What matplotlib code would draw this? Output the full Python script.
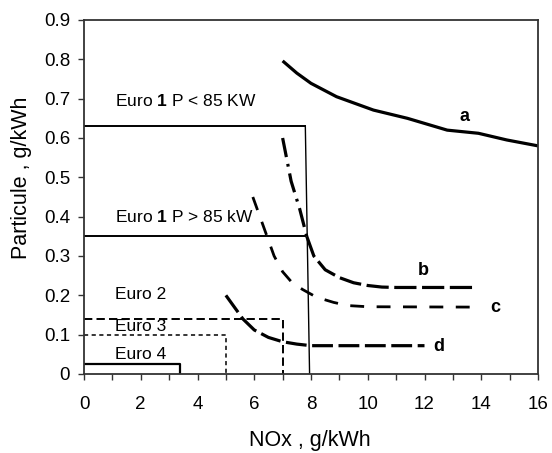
import numpy as np
import matplotlib
matplotlib.use("Agg")
import matplotlib.pyplot as plt
from matplotlib.ticker import MultipleLocator, FuncFormatter

plt.rcParams['font.family'] = ['Liberation Sans', 'DejaVu Sans']
plt.rcParams['mathtext.fontset'] = 'custom'
plt.rcParams['mathtext.rm'] = 'Liberation Sans'
plt.rcParams['mathtext.bf'] = 'Liberation Sans:bold'
plt.rcParams['lines.scale_dashes'] = False

# curve a (solid)
a_x = [7.0, 7.5, 8.0, 8.9, 10.2, 11.4, 12.8, 13.9, 14.9, 16.0]
a_y = [0.796, 0.765, 0.739, 0.705, 0.671, 0.650, 0.620, 0.612, 0.595, 0.580]

# curve b (dash-dot on top, long dashes below)
b_x = [7.0, 7.3, 7.6, 7.85, 8.1, 8.5, 9.0, 9.5, 10.0, 10.5, 11.0, 13.8]
b_y = [0.60, 0.49, 0.42, 0.35, 0.30, 0.265, 0.245, 0.232, 0.225, 0.221, 0.22, 0.22]
b_split = 3

# curve c (dashed)
c_x = [5.95, 6.2, 6.45, 6.7, 7.0, 7.3, 7.7, 8.2, 8.8, 9.3, 10.0, 14.0]
c_y = [0.45, 0.40, 0.35, 0.30, 0.26, 0.235, 0.215, 0.195, 0.182, 0.174, 0.171, 0.17]

# curve d (dashed)
d_x = [5.0, 5.3, 5.6, 6.0, 6.5, 7.0, 7.5, 8.0, 12.0]
d_y = [0.20, 0.17, 0.14, 0.112, 0.093, 0.082, 0.076, 0.072, 0.072]

# Euro limits: (NOx limit, particle limit)
euro1_lo = (7.8, 0.63)
euro1_hi = (7.8, 0.35)
euro1_bottom_x = 7.95
euro2 = (7.0, 0.14)
euro3 = (5.0, 0.10)
euro4 = (3.4, 0.025)

fig = plt.figure(figsize=(5.52, 4.53), dpi=100)
ax = fig.add_axes([84/552, 1-374/453, 454/552, 354/453])

# Euro 1
ax.plot([0, euro1_lo[0]], [euro1_lo[1], euro1_lo[1]], color='black', lw=1.4)
ax.plot([0, euro1_hi[0]], [euro1_hi[1], euro1_hi[1]], color='black', lw=1.4)
ax.plot([euro1_lo[0], euro1_bottom_x], [euro1_lo[1], 0], color='black', lw=1.0)
# Euro 2
ax.plot([0, euro2[0], euro2[0]], [euro2[1], euro2[1], 0], color='black', lw=1.4,
        dashes=(6, 3))
# Euro 3
ax.plot([0, euro3[0], euro3[0]], [euro3[1], euro3[1], 0], color='black', lw=1.1,
        dashes=(3, 2.5))
# Euro 4
ax.plot([0, euro4[0], euro4[0]], [euro4[1], euro4[1], 0], color='black', lw=1.6)

ax.plot(a_x, a_y, color='black', lw=2.3, solid_capstyle='butt')
ax.plot(b_x[:b_split + 1], b_y[:b_split + 1], color='black', lw=2.3,
        dashes=(14, 5, 2, 5))
ax.plot(b_x[b_split:], b_y[b_split:], color='black', lw=2.3, dashes=(16, 4))
ax.plot(c_x, c_y, color='black', lw=2.0, dashes=(10, 9))
ax.plot(d_x, d_y, color='black', lw=2.3, dashes=(15, 4))

tfs = 12.5
ax.text(1.1, 0.693, r'Euro $\mathbf{1}$ P < 85 KW', fontsize=tfs, va='center')
ax.text(1.1, 0.40, r'Euro $\mathbf{1}$ P > 85 kW', fontsize=tfs, va='center')
ax.text(1.1, 0.203, 'Euro 2', fontsize=tfs, va='center')
ax.text(1.1, 0.12, 'Euro 3', fontsize=tfs, va='center')
ax.text(1.1, 0.05, 'Euro 4', fontsize=tfs, va='center')

lfs = 13
ax.text(13.4, 0.654, 'a', fontsize=lfs, fontweight='bold', ha='center', va='center')
ax.text(11.95, 0.263, 'b', fontsize=lfs, fontweight='bold', ha='center', va='center')
ax.text(14.5, 0.17, 'c', fontsize=lfs, fontweight='bold', ha='center', va='center')
ax.text(12.5, 0.07, 'd', fontsize=lfs, fontweight='bold', ha='center', va='center')

ax.set_xlim(0, 16)
ax.set_ylim(0, 0.9)
ax.xaxis.set_major_locator(MultipleLocator(2))
ax.xaxis.set_minor_locator(MultipleLocator(1))
ax.yaxis.set_major_locator(MultipleLocator(0.1))
ax.yaxis.set_major_formatter(FuncFormatter(lambda v, p: '0' if abs(v) < 1e-9 else '%.1f' % v))
ax.tick_params(axis='both', which='both', direction='out', length=4, width=1,
               labelsize=13.5, color='#333333')
ax.tick_params(axis='x', pad=12)
ax.tick_params(axis='y', pad=6)
for s in ax.spines.values():
    s.set_linewidth(1.3)
    s.set_color('#333333')

ax.set_xlabel('NOx , g/kWh', fontsize=15.5)
ax.set_ylabel('Particule , g/kWh', fontsize=15.5)
ax.xaxis.set_label_coords(0.498, -0.158)
ax.yaxis.set_label_coords(-0.115, 0.555)

fig.savefig('out.png', dpi=100)
